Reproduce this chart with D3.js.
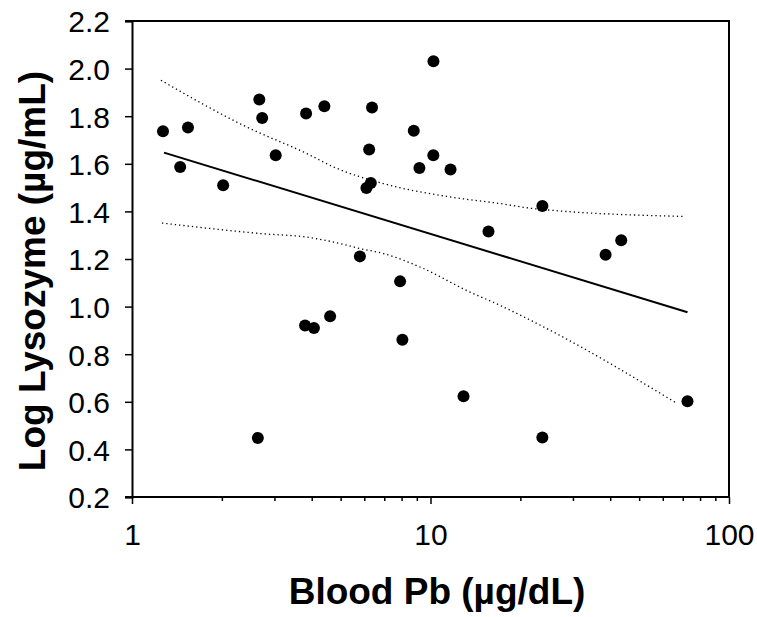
<!DOCTYPE html>
<html>
<head>
<meta charset="utf-8">
<script src="https://cdn.jsdelivr.net/npm/d3@7"></script>
<style>
  body { margin: 0; background: #fff; }
  text { font-family: "Liberation Sans", Arial, sans-serif; fill: #000; }
</style>
</head>
<body>
<div id="chart"></div>
<script>
// blood lead (x, log scale) vs log lysozyme (y)
const pbValues = [1.27, 1.45, 1.54, 2.02, 2.64, 2.67, 2.73, 3.03, 3.80, 3.83, 4.07, 4.41, 4.61, 5.80, 6.10, 6.23,
                  6.31, 6.37, 7.91, 8.05, 8.79, 9.18, 10.23, 10.22, 11.67, 12.9, 15.64, 23.7, 23.7, 38.6, 43.55, 72.6];
const lysoValues = [1.737, 1.587, 1.753, 1.510, 0.448, 1.870, 1.792, 1.636, 0.921, 1.811, 0.910, 1.842, 0.959, 1.211, 1.498, 1.660,
                    1.519, 1.837, 1.106, 0.861, 1.739, 1.582, 2.031, 1.636, 1.576, 0.623, 1.316, 1.423, 0.450, 1.218, 1.279, 0.602];

// regression line end points
const fitX = [1.28, 72.6];
const fitY = [1.647, 0.976];

// 95% confidence band
const upperX = [1.25, 2.42, 3.85, 4.73, 6.95, 11.6, 17.1, 22.1, 70];
const upperY = [1.951, 1.755, 1.643, 1.587, 1.517, 1.461, 1.433, 1.412, 1.379];
const lowerX = [1.26, 2.69, 3.95, 4.98, 5.8, 6.95, 9.47, 13.2, 17.1, 25.2, 67.2];
const lowerY = [1.351, 1.307, 1.290, 1.265, 1.244, 1.223, 1.160, 1.068, 1.005, 0.900, 0.592];

const yTicks = [0.2, 0.4, 0.6, 0.8, 1.0, 1.2, 1.4, 1.6, 1.8, 2.0, 2.2];
const xMajor = [1, 10, 100];
const xMinor = [2, 3, 4, 5, 6, 7, 8, 9, 20, 30, 40, 50, 60, 70, 80, 90];

var width = 757,
    height = 617,
    margin = {left: 132, right: 28, top: 21, bottom: 120};

var svg = d3.select("#chart")
  .append("svg")
    .attr("width", width)
    .attr("height", height);

var x = d3.scaleLog()
    .domain([1, 100])
    .range([margin.left, width - margin.right]);

var y = d3.scaleLinear()
    .domain([0.2, 2.2])
    .range([height - margin.bottom, margin.top]);

// frame: top and right sides
svg.append("path")
    .attr("d", "M" + (margin.left - 7) + "," + y(2.2) + "H" + x(100) + "V" + y(0.2))
    .attr("fill", "none")
    .attr("stroke", "#000")
    .attr("stroke-width", 2);

// y axis
var yAxis = svg.append("g")
    .attr("transform", "translate(" + margin.left + ",0)")
    .call(d3.axisLeft(y).tickValues(yTicks).tickFormat(d3.format(".1f")).tickSize(7).tickPadding(15));
yAxis.select(".domain").attr("stroke-width", 2);
yAxis.selectAll(".tick line").attr("stroke-width", 1.5);
yAxis.selectAll("text").style("font-size", "30px").attr("dy", "0.36em");

// x axis, major ticks
var xAxis = svg.append("g")
    .attr("transform", "translate(0," + y(0.2) + ")")
    .call(d3.axisBottom(x).tickValues(xMajor).tickFormat(d3.format("d")).tickSize(7).tickPadding(20));
xAxis.select(".domain").attr("stroke-width", 2).attr("d", "M" + (margin.left - 7) + ",0H" + x(100));
xAxis.selectAll(".tick line").attr("stroke-width", 1.5);
xAxis.selectAll("text").style("font-size", "30px");

// x axis, minor ticks
svg.append("g")
    .attr("transform", "translate(0," + y(0.2) + ")")
    .call(d3.axisBottom(x).tickValues(xMinor).tickFormat("").tickSize(4))
    .call(g => g.select(".domain").remove())
    .selectAll(".tick line").attr("stroke-width", 1.5);

// confidence band
var band = d3.line()
    .x(d => x(d[0]))
    .y(d => y(d[1]))
    .curve(d3.curveMonotoneX);

[[upperX, upperY], [lowerX, lowerY]].forEach(function(b){
  svg.append("path")
    .datum(b[0].map((v, i) => [v, b[1][i]]))
    .attr("d", band)
    .attr("fill", "none")
    .attr("stroke", "#000")
    .attr("stroke-width", 1.3)
    .attr("stroke-dasharray", "1.3,3");
});

// regression line
svg.append("path")
    .datum(fitX.map((v, i) => [v, fitY[i]]))
    .attr("d", d3.line().x(d => x(d[0])).y(d => y(d[1])))
    .attr("fill", "none")
    .attr("stroke", "#000")
    .attr("stroke-width", 2);

// points
svg.selectAll(".pt")
    .data(pbValues.map((v, i) => [v, lysoValues[i]]))
    .enter().append("circle")
    .attr("class", "pt")
    .attr("cx", d => x(d[0]))
    .attr("cy", d => y(d[1]))
    .attr("r", 6)
    .attr("fill", "#000");

// axis titles
svg.append("text")
    .attr("x", 437)
    .attr("y", 604)
    .attr("text-anchor", "middle")
    .style("font-size", "37px")
    .style("font-weight", "bold")
    .text("Blood Pb (µg/dL)");

svg.append("text")
    .attr("transform", "translate(45," + 271 + ") rotate(-90)")
    .attr("text-anchor", "middle")
    .style("font-size", "37px")
    .style("font-weight", "bold")
    .text("Log Lysozyme (µg/mL)");
</script>
</body>
</html>
